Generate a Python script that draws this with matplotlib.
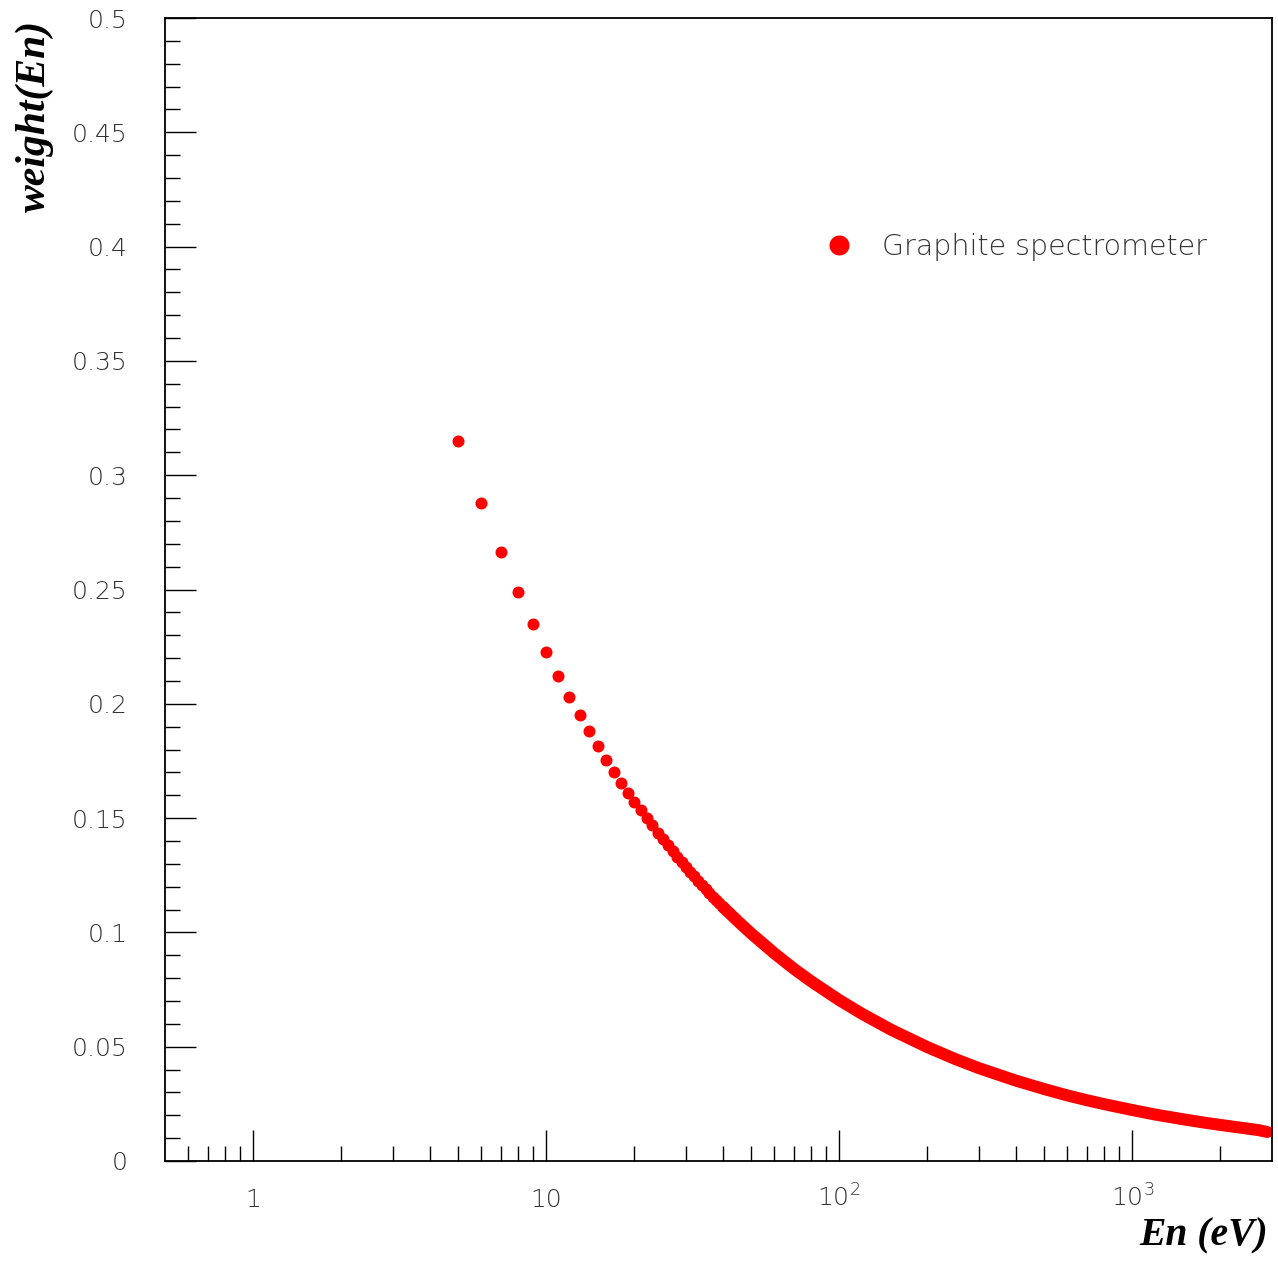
"""Graphite spectrometer weight vs. neutron energy (ROOT-style plot)."""

import matplotlib

matplotlib.use('Agg')
import matplotlib.pyplot as plt
from matplotlib.font_manager import FontProperties
from matplotlib.ticker import FixedLocator, MultipleLocator, NullFormatter

# Isolated points, one per eV
energy_points = [5, 6, 7, 8, 9, 10, 11, 12, 13, 14, 15, 16, 17, 18, 19, 20,
                 21, 22, 23, 24, 25, 26, 27, 28, 29, 30,
                 31, 32, 33, 34, 35, 36, 37, 38, 39, 40]
weight_points = [0.315, 0.2878, 0.2664, 0.2489, 0.2349, 0.2227, 0.2122, 0.2030,
                 0.1951, 0.1881, 0.1815, 0.1754, 0.1702, 0.1654, 0.1610, 0.1570,
                 0.1536, 0.1501, 0.1468, 0.1437, 0.1408, 0.1381, 0.1355, 0.1330,
                 0.1307, 0.1285, 0.1264, 0.1245, 0.1226, 0.1207, 0.1190, 0.1173,
                 0.1157, 0.1142, 0.1127, 0.1113]

# Above ~40 eV the markers merge into a solid band
energy_band = [40, 45, 50, 60, 70, 80, 100, 120, 150, 200, 250, 300, 400, 500,
               600, 700, 800, 1000, 1200, 1500, 1800, 2100, 2400, 2700, 2890]
weight_band = [0.1113, 0.105, 0.0996, 0.0909, 0.0841, 0.0787, 0.0704, 0.0643,
               0.0575, 0.0498, 0.0445, 0.0406, 0.0352, 0.0315, 0.0287, 0.0266,
               0.0249, 0.0223, 0.0203, 0.0182, 0.0166, 0.0154, 0.0144, 0.0135,
               0.0127]

x_major = [1, 10, 100, 1000]
x_labels = ['1', '10', r'$\mathregular{10^{2}}$', r'$\mathregular{10^{3}}$']
y_major = [0, 0.05, 0.1, 0.15, 0.2, 0.25, 0.3, 0.35, 0.4, 0.45, 0.5]
y_labels = ['0', '0.05', '0.1', '0.15', '0.2', '0.25', '0.3', '0.35', '0.4',
            '0.45', '0.5']
legend_label = 'Graphite spectrometer'

W, H = 1278, 1261
TICK_FONT = dict(family='DejaVu Sans', weight='light', size=18)
LABEL_FONT = dict(family='Liberation Serif', weight='bold', style='italic')

fig = plt.figure(figsize=(W / 100, H / 100), dpi=100)
ax = fig.add_axes([165 / W, 1 - 1161 / H, (1272 - 165) / W, (1161 - 18) / H])

dot_px = 12
ax.plot(energy_band, weight_band, color='red', lw=dot_px * 0.72,
        solid_capstyle='round', solid_joinstyle='round')
dots, = ax.plot(energy_points, weight_points, 'o', color='red',
                ms=dot_px * 0.72, mec='none', label=legend_label)

ax.set_xscale('log')
ax.set_xlim(0.5, 3000)
ax.set_ylim(0, 0.5)

ax.xaxis.set_major_locator(FixedLocator(x_major))
ax.xaxis.set_minor_locator(FixedLocator(
    [0.6, 0.7, 0.8, 0.9] + [m * d for d in (1, 10, 100) for m in range(2, 10)] + [2000]))
ax.xaxis.set_minor_formatter(NullFormatter())
ax.set_xticklabels(x_labels)
ax.set_yticks(y_major)
ax.set_yticklabels(y_labels)
ax.yaxis.set_minor_locator(MultipleLocator(0.01))

ax.tick_params(which='both', direction='in', top=False, right=False, width=1)
ax.tick_params(which='major', length=22)
ax.tick_params(which='minor', length=11)
ax.tick_params(axis='y', pad=27)
ax.tick_params(axis='x', pad=33)
for lab in ax.get_xticklabels() + ax.get_yticklabels():
    lab.set_fontproperties(FontProperties(**TICK_FONT))
    lab.set_color('#333333')
for lab in ax.get_xticklabels():
    lab.set_va('baseline')
for sp in ax.spines.values():
    sp.set_linewidth(1.3)

# legend: marker at (839, 247), text starting at x=882
fs_leg = 20.5
em = fs_leg * 100 / 72
ax.legend(handles=[dots], loc='center left', frameon=False,
          bbox_to_anchor=((839 - em * 0.5) / W, 1 - 247 / H),
          bbox_transform=fig.transFigure, borderpad=0, borderaxespad=0,
          handlelength=1.0, handletextpad=(882 - 839 - em * 0.5) / em,
          markerscale=20 / dot_px,
          prop=FontProperties(family='DejaVu Sans', weight='light', size=fs_leg))
for t in ax.get_legend().get_texts():
    t.set_color('#333333')

fig.text(35 / W, 1 - 20 / H, 'weight(En)', rotation=90, ha='center', va='top',
         size=30, **LABEL_FONT)
fig.text(1268 / W, 1 - 1245 / H, 'En (eV)', ha='right', va='baseline',
         size=28.5, **LABEL_FONT)

fig.savefig('out.png', dpi=100)
